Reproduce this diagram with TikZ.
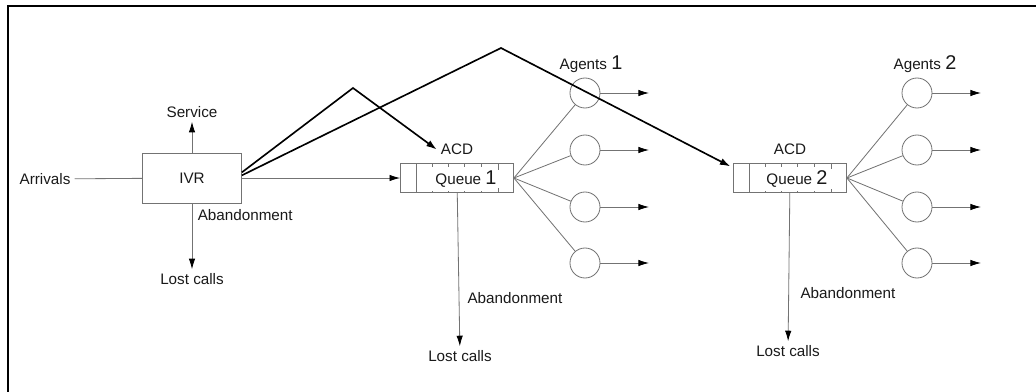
\documentclass[tikz,border=0pt]{standalone}
\usepackage{fontspec}
\setmainfont{Liberation Sans}
\usetikzlibrary{positioning,arrows.meta}

\newcommand{\bignum}[1]{{\fontsize{17}{18}\selectfont #1}}

\begin{document}
\begin{tikzpicture}[x=0.03cm,y=-0.03cm,
    font=\fontsize{13}{15}\selectfont,text=black!90,
    thinline/.style={draw=black!55,line width=0.7pt},
    tip/.style={-{Latex[length=9pt,width=5.5pt,color=black]}},
    agent/.style={circle,draw=black!55,line width=0.7pt,minimum size=0.9cm,inner sep=0pt},
    queuebox/.style={rectangle,draw=black!55,line width=0.7pt,minimum width=3.39cm,minimum height=0.87cm,inner sep=0pt},
    route/.style={black,line width=1.4pt,-{Latex[length=9pt,width=6pt]}}]
  \useasboundingbox (0,0) rectangle (1036,392);
  \draw[line width=1.8pt] (8,392) -- (8,6) -- (1036,6);

  % IVR stage
  \node[draw=black!55,line width=0.7pt,minimum width=2.97cm,minimum height=1.5cm] (ivr) at (192,178) {IVR};
  \node (arrivals) at (45,179) {Arrivals};
  \node (service) at (192,112) {Service};
  \node (lost0) at (192,279) {Lost calls};
  \node[right=0.05cm of ivr.south, anchor=north west, yshift=-0.05cm] (aband0) {Abandonment};
  \draw[thinline] (arrivals) -- (ivr);
  \draw[thinline,tip] (ivr) -- (service);
  \draw[thinline,tip] (ivr) -- (lost0);

  % queues
  \node[queuebox] (q1) at (457,178) {};
  \node[queuebox] (q2) at (790,178) {};
  \foreach \q in {q1,q2} {
    \draw[thinline] ([xshift=0.48cm]\q.north west) -- ([xshift=0.48cm]\q.south west);
    \draw[thinline] ([xshift=-0.48cm]\q.north east) -- ([xshift=-0.48cm]\q.south east);
    \foreach \d in {0.98,1.46,1.94,2.44}
      \draw[thinline,dashed] ([xshift=\d cm]\q.north west) -- ([xshift=\d cm]\q.south west);
  }
  \node[fill=white,inner xsep=4pt,inner ysep=1pt] (lab1) at (466,179) {Queue \bignum{1}};
  \node[fill=white,inner xsep=4pt,inner ysep=1pt] (lab2) at (797,179) {Queue \bignum{2}};
  \node[above=0.12cm of q1] (acd1) {ACD};
  \node[above=0.12cm of q2] (acd2) {ACD};
  \draw[thinline,tip] (ivr) -- (q1);

  \node (lost1) at (460,356) {Lost calls};
  \node (lost2) at (788,351) {Lost calls};
  \node (aband1) at (515,298) {Abandonment};
  \node (aband2) at (848,293) {Abandonment};
  \draw[thinline,tip] (q1) -- (lost1);
  \draw[thinline,tip] (q2) -- (lost2);

  % agents
  \node (ag1) at (591,64) {Agents \bignum{1}};
  \node (ag2) at (925,64) {Agents \bignum{2}};
  \foreach \y [count=\i] in {93,150,207,263} {
    \node[agent] (a\i) at (585,\y) {};
    \node[agent] (b\i) at (917,\y) {};
    \coordinate (oa\i) at (649,\y);
    \coordinate (ob\i) at (981,\y);
    \draw[thinline] (q1.east) -- (a\i);
    \draw[thinline] (q2.east) -- (b\i);
    \draw[thinline,tip] (a\i) -- (oa\i);
    \draw[thinline,tip] (b\i) -- (ob\i);
  }

  % routing from the IVR
  \coordinate (top1) at (353,88);
  \coordinate (top2) at (501,48);
  \draw[route] ([yshift=0.17cm]ivr.east) -- (top1) -- (acd1.west);
  \draw[route] ([yshift=0.08cm]ivr.east) -- (top2) -- ([xshift=-0.08cm,yshift=-0.1cm]q2.north west);
\end{tikzpicture}
\end{document}
